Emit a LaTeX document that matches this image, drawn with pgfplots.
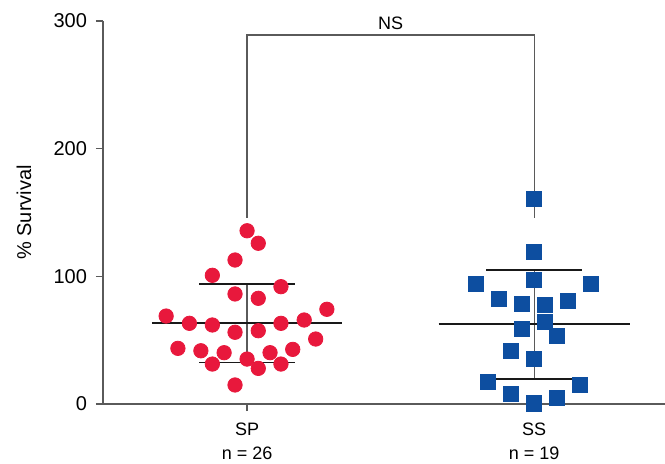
\documentclass[border=0pt]{standalone}
\usepackage{pgfplots}
\pgfplotsset{compat=1.18}
\usepackage{fontspec}
\setmainfont{Liberation Sans}
\definecolor{spred}{RGB}{232,24,60}
\definecolor{ssblue}{RGB}{13,78,160}
\definecolor{axgray}{RGB}{90,90,90}
\begin{document}
\begin{tikzpicture}
\path[use as bounding box] (-51.5pt,-29.5pt) rectangle (281pt,202pt);
\begin{axis}[
 at={(0,0)}, anchor=south west,
 scale only axis, width=281pt, height=191.5pt,
 xmin=0.498, xmax=2.456, ymin=0, ymax=300,
 axis lines=left, axis line style={-, axgray, line width=0.6pt},
 xtick={1,2}, xticklabels={{SP\\n = 26},{SS\\n = 19}},
 ytick={0,100,200,300},
 tick align=outside, major tick length=3.5pt,
 tick style={axgray, line width=0.6pt},
 xticklabel style={align=center, font=\fontsize{9}{12}\selectfont, yshift=-2.5pt},
 yticklabel style={font=\fontsize{10}{12}\selectfont, xshift=-1pt},
 /pgf/number format/assume math mode=true,
 ylabel={\% Survival},
 every axis y label/.style={at={(axis description cs:-0.1406,0.5)}, rotate=90, anchor=center, font=\fontsize{10}{12}\selectfont},
 clip=false,
]
\addplot[only marks, mark=*, mark size=3.6pt, color=spred] coordinates {
(1.000,135.7) (1.039,125.9) (0.958,112.8) (0.879,100.8) (1.118,91.9)
(0.958,86.2) (1.039,82.8) (1.278,74.2) (0.718,68.9) (0.799,63.2)
(0.879,61.9) (1.118,63.2) (1.199,65.8) (0.958,56.2) (1.039,57.4)
(1.239,50.9) (0.759,43.6) (0.839,41.7) (0.920,40.2) (1.000,35.2)
(1.080,40.2) (1.159,42.8) (0.879,31.3) (1.039,27.9) (1.118,31.3)
(0.958,14.9)
};
\addplot[only marks, mark=square*, mark size=3.8pt, color=ssblue] coordinates {
(2.000,160.6) (2.000,119.3) (2.000,97.1) (1.798,94.0) (2.199,94.0)
(1.878,82.2) (1.958,78.3) (2.038,77.5) (2.118,80.9) (2.038,64.5)
(1.958,58.7) (2.080,53.3) (1.920,41.5) (2.000,35.2) (1.840,17.2)
(2.160,14.9) (1.920,7.8) (2.080,4.9) (2.000,0.5)
};
% SP mean and SD
\addplot[axgray, line width=0.6pt] coordinates {(1,32.4) (1,94.2)};
\addplot[black!90, line width=0.9pt] coordinates {(0.668,63.2) (1.332,63.2)};
\addplot[black!90, line width=0.8pt] coordinates {(0.834,94.2) (1.166,94.2)};
\addplot[black!90, line width=0.8pt] coordinates {(0.834,32.4) (1.166,32.4)};
% SS mean and SD
\addplot[axgray, line width=0.6pt] coordinates {(2,19.6) (2,105.0)};
\addplot[black!90, line width=0.9pt] coordinates {(1.667,62.4) (2.333,62.4)};
\addplot[black!90, line width=0.8pt] coordinates {(1.833,105.0) (2.167,105.0)};
\addplot[black!90, line width=0.8pt] coordinates {(1.833,19.6) (2.167,19.6)};
% bracket
\addplot[axgray, line width=0.6pt] coordinates {(1,146) (1,289) (2,289) (2,146)};
\node[font=\fontsize{9}{11}\selectfont] at (axis cs:1.5,298) {NS};
\end{axis}
\end{tikzpicture}
\end{document}
